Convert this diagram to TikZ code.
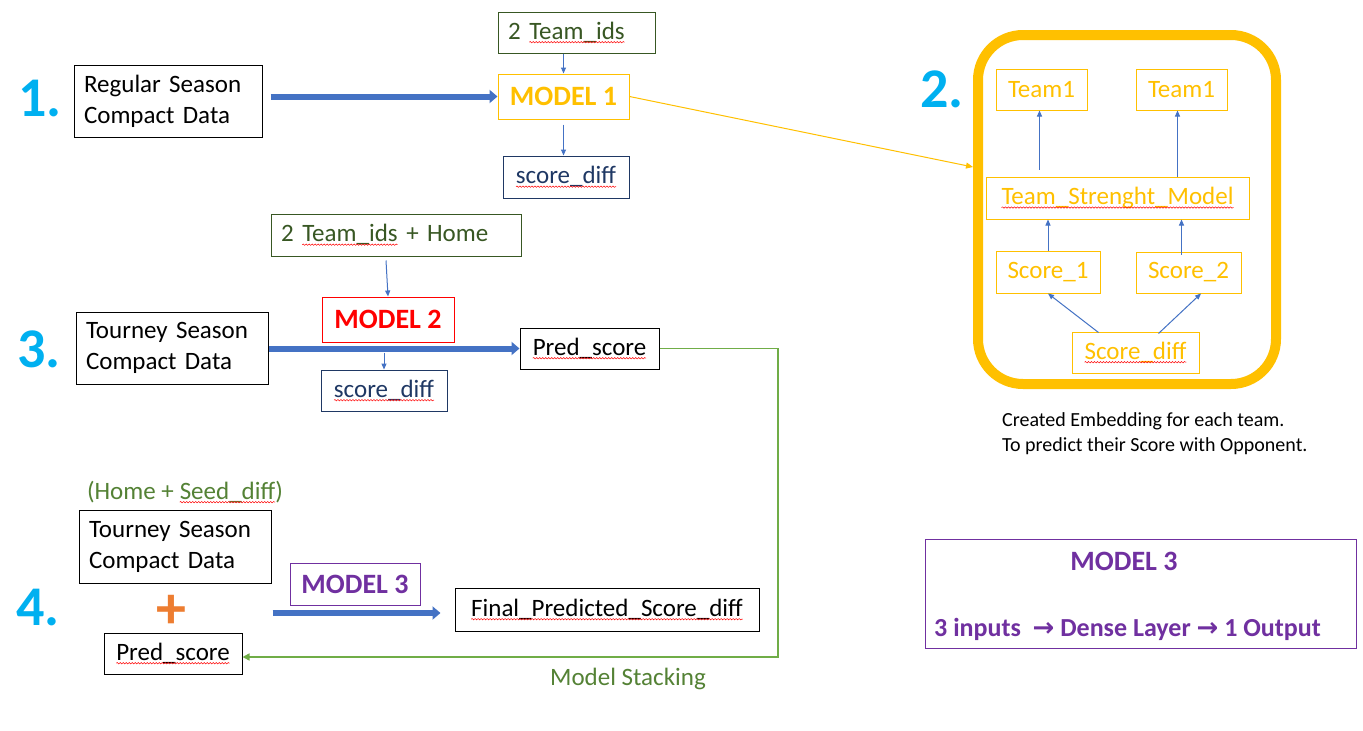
\documentclass[tikz,border=0pt]{standalone}
\usepackage{fontspec}
\setmainfont{Carlito}
\newfontfamily\djv{DejaVu Sans}
\usetikzlibrary{arrows.meta,calc,decorations.pathmorphing}
\definecolor{cy}{HTML}{00B0F0}
\definecolor{ablue}{HTML}{4472C4}
\definecolor{gold}{HTML}{FFC000}
\definecolor{dgreen}{HTML}{385723}
\definecolor{navy}{HTML}{1F3864}
\definecolor{mred}{HTML}{FF0000}
\definecolor{purp}{HTML}{7030A0}
\definecolor{orng}{HTML}{ED7D31}
\definecolor{lgreen}{HTML}{70AD47}
\definecolor{tgreen}{HTML}{548235}
\newcommand\sq[1]{\tikz[x=1pt,y=1pt,baseline=(sqw.base)]{\node[inner sep=0pt,outer sep=0pt,anchor=base,text width=,minimum width=0pt,minimum height=0pt,draw=none](sqw){#1};\draw[red,line width=0.5pt,decorate,decoration={snake,amplitude=0.7pt,segment length=3pt}] ([yshift=-3pt]sqw.base west) -- ([yshift=-3pt]sqw.base east);}}
\begin{document}
\begin{tikzpicture}[x=1pt,y=-1pt,
  num/.style={text=cy, font=\bfseries\fontsize{56}{56}\selectfont, inner sep=0pt},
  box/.style={draw, line width=1pt, inner sep=0pt, align=center, font=\fontsize{25}{31}\selectfont},
  lbox/.style={box, align=left, inner xsep=10pt},
  mtitle/.style={box, font=\bfseries\fontsize{28}{30}\selectfont},
  gbox/.style={box, draw=gold, text=gold},
  arr/.style={draw=ablue, line width=1pt, -{Triangle[length=6pt,width=5pt]}},
  thickarr/.style={draw=ablue, line width=6pt, -{Triangle[length=8pt,width=13pt]}},
  plain/.style={inner sep=0pt, font=\fontsize{25}{31}\selectfont}
]
\useasboundingbox[fill=white] (0,0) rectangle (1363,731);

% ---------- 1 ----------
\node[num] (n1) at (40,99) {1.};
\node[lbox, minimum width=188pt, minimum height=72pt, text width=168pt] (rs) at (168,101) {Regular Season\\Compact Data};
\node[lbox, draw=dgreen, text=dgreen, minimum width=157pt, minimum height=41pt, text width=137pt] (tid) at (576.5,32.5) {2 \sq{Team\_ids}};
\node[mtitle, draw=gold, text=gold, minimum width=131pt, minimum height=45pt] (m1) at (563.5,96.5) {MODEL 1};
\node[box, draw=navy, text=navy, minimum width=126pt, minimum height=42pt] (sd1) at (566,177) {\sq{score\_diff}};
\draw[thickarr] ($(rs.east|-m1.west)+(8,0)$) -- (m1.west);
\draw[arr] (m1.north|-tid.south) -- (m1.north);
\draw[arr] ($(m1.south)+(0,5)$) -- (m1.south|-sd1.north);

% ---------- 2 ----------
\node[draw=gold, line width=10pt, rounded corners=45pt, inner sep=0pt, minimum width=298pt, minimum height=349pt] (emb) at (1127,209.5) {};
\coordinate (embin) at (973,167);
\draw[draw=gold, line width=1pt, -{Triangle[length=7pt,width=6pt]}] (m1.east) -- (embin);
\node[num] (n2) at (942,89) {2.};
\node[gbox, minimum width=91pt, minimum height=41pt] (t1a) at (1041.5,89.5) {Team1};
\node[gbox, minimum width=91pt, minimum height=41pt] (t1b) at (1181.5,89.5) {Team1};
\node[gbox, minimum width=263pt, minimum height=42pt] (tsm) at (1117.5,198) {\sq{Team\_Strenght\_Model}};
\node[gbox, minimum width=104pt, minimum height=42pt] (s1) at (1048,272) {Score\_1};
\node[gbox, minimum width=105pt, minimum height=41pt] (s2) at (1188.5,272.5) {Score\_2};
\node[gbox, minimum width=127pt, minimum height=41pt] (sdf) at (1135.5,352.5) {\sq{Score\_diff}};
\draw[arr] ($(tsm.north-|t1a.south)+(-2,-7)$) -- ($(t1a.south)+(-2,0)$);
\draw[arr] ($(tsm.north-|t1b.south)+(-4,0)$) -- ($(t1b.south)+(-4,0)$);
\draw[arr] (s1.north) -- (s1.north|-tsm.south);
\draw[arr] ($(s2.north)+(-7,3)$) -- ($(s2.north|-tsm.south)+(-7,0)$);
\draw[arr] ($(sdf.north west)+(27,1)$) -- (s1.south);
\draw[arr] ($(sdf.north east)+(-41,2)$) -- ($(s2.south)+(12.5,0)$);
\node[inner sep=0pt, anchor=west, align=left, font=\fontsize{20}{25}\selectfont] (cap) at (1002,434) {Created Embedding for each team.\\To predict their Score with Opponent.};

% ---------- 3 ----------
\node[num] (n3) at (39,349) {3.};
\node[lbox, draw=dgreen, text=dgreen, minimum width=250pt, minimum height=42pt, text width=230pt] (tih) at (396,235) {2 \sq{Team\_ids} + Home};
\node[mtitle, draw=mred, text=mred, minimum width=132pt, minimum height=45pt] (m2) at (388,319.5) {MODEL 2};
\node[lbox, minimum width=192pt, minimum height=72pt, text width=172pt] (ts3) at (172,348) {Tourney Season\\Compact Data};
\node[box, minimum width=139pt, minimum height=41pt] (pred) at (589.5,348.5) {\sq{Pred\_score}};
\node[box, draw=navy, text=navy, minimum width=126pt, minimum height=41pt] (sd3) at (384,390.5) {\sq{score\_diff}};
\draw[arr] ($(m2.north|-tih.south)+(-2,4)$) -- (m2.north);
\draw[thickarr] (ts3.east|-pred.west) -- (pred.west);
\draw[arr] ($(sd3.north)+(0,-17)$) -- (sd3.north);

% ---------- 4 ----------
\node[num] (n4) at (38,608) {4.};
\node[plain, text=tgreen] (hsd) at (185,492) {(Home + \sq{Seed\_diff})};
\node[lbox, minimum width=192pt, minimum height=73pt, text width=172pt] (ts4) at (175,546.5) {Tourney Season\\Compact Data};
\node[inner sep=0pt, text=orng, font=\bfseries\fontsize{60}{60}\selectfont] (plus) at (171,612) {+};
\node[box, minimum width=138pt, minimum height=41pt] (pred2) at (173,653.5) {\sq{Pred\_score}};
\node[mtitle, draw=purp, text=purp, minimum width=130pt, minimum height=42pt] (m3) at (355,584) {MODEL 3};
\node[box, minimum width=304pt, minimum height=43pt] (final) at (607,609.5) {\sq{Final\_Predicted\_Score\_diff}};
\draw[thickarr] ($(ts4.east|-final.west)+(1,3.5)$) -- ($(final.west)+(-14,3.5)$);
\coordinate (gc) at (778,657);
\draw[draw=lgreen, line width=1.5pt, -{Triangle[length=7pt,width=7pt]}] (pred.east) -| (gc) -- (gc-|pred2.east);
\node[plain, text=tgreen] (ms) at (628,679) {Model Stacking};

% ---------- MODEL 3 box ----------
\node[draw=purp, line width=1pt, inner sep=0pt, minimum width=431pt, minimum height=109pt] (m3big) at (1140.5,593.5) {};
\node[inner sep=0pt, text=purp, font=\bfseries\fontsize{28}{30}\selectfont] (m3t) at (1124,561) {MODEL 3};
\node[inner sep=0pt, anchor=west, text=purp, font=\bfseries\fontsize{26}{28}\selectfont] (m3d) at (934,629) {3 inputs\ \ {\djv\bfseries\fontsize{26}{28}\selectfont →} Dense Layer {\djv\bfseries\fontsize{26}{28}\selectfont →} 1 Output};
\end{tikzpicture}
\end{document}
